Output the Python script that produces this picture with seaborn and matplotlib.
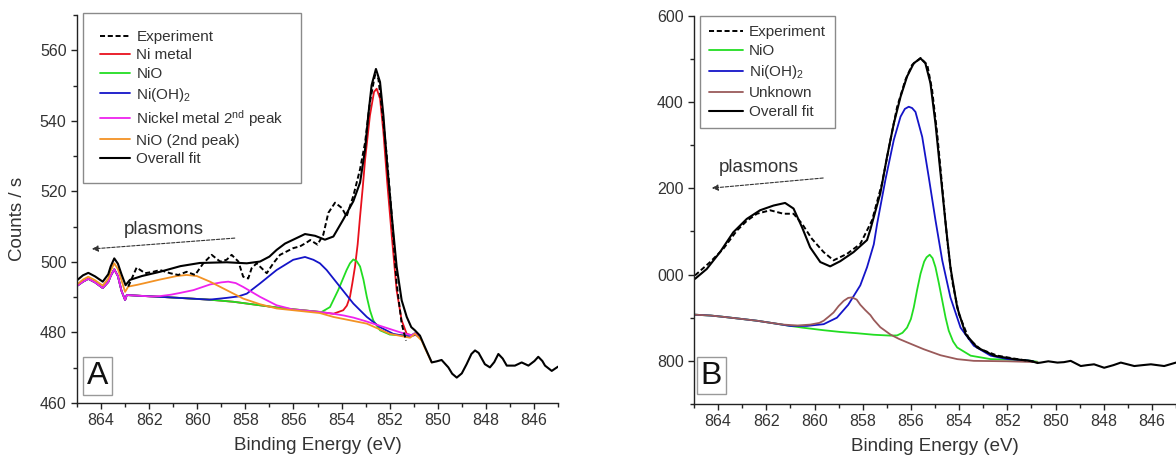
import numpy as np
import matplotlib
matplotlib.use("Agg")
import matplotlib.pyplot as plt
import seaborn as sns
from matplotlib.ticker import MultipleLocator

# ---------------- Panel A : Ni 2p3/2, metallic sample ----------------
a_fit_e = [865.0, 864.75, 864.53, 864.25, 863.93, 863.7, 863.6, 863.45, 863.3, 863.15, 862.98, 862.8,
           862.3, 861.55, 860.7, 859.89, 858.78, 857.94, 857.39, 857.0, 856.7, 856.35, 856.01, 855.52,
           855.1, 854.69, 854.34, 853.93, 853.51, 853.23, 853.02, 852.89, 852.75, 852.57, 852.4, 852.26,
           852.1, 851.91, 851.71, 851.5, 851.29, 851.1, 850.95, 850.74, 850.53, 850.25, 850.05, 849.84,
           849.56, 849.4, 849.21, 849.0, 848.8, 848.6, 848.45, 848.3, 848.04, 847.83, 847.65, 847.48,
           847.3, 847.13, 846.79, 846.51, 846.23, 845.98, 845.82, 845.65, 845.54, 845.26, 845.0]
a_fit_v = [494.8, 496.2, 496.9, 495.9, 494.4, 496.5, 498.7, 501.0, 499.5, 496.5, 493.4, 494.9,
           496.0, 497.2, 498.8, 499.7, 499.9, 499.6, 500.1, 501.5, 503.4, 505.2, 506.3, 507.9,
           507.4, 506.3, 507.2, 512.0, 517.2, 522.5, 532.0, 541.5, 550.1, 554.7, 551.0, 541.5,
           527.2, 512.9, 498.7, 489.1, 484.4, 481.5, 480.6, 479.1, 475.8, 471.5, 471.8, 472.2,
           470.1, 468.3, 467.2, 468.4, 471.0, 473.9, 474.9, 474.2, 471.0, 470.1, 471.6, 473.9,
           472.6, 470.6, 470.6, 471.5, 470.6, 471.9, 473.1, 471.9, 470.6, 469.1, 470.3]

a_exp_e = [862.87, 862.52, 862.17, 861.83, 861.55, 861.13, 860.79, 860.44, 860.09, 859.75, 859.4,
           859.05, 858.78, 858.57, 858.29, 858.09, 857.88, 857.74, 857.53, 857.32, 857.11, 856.84,
           856.56, 856.01, 855.73, 855.45, 855.3, 855.0, 854.76, 854.55, 854.27, 853.99, 853.79,
           853.51, 853.23, 853.02, 852.82, 852.61, 852.47, 852.29, 852.12, 851.91, 851.71, 851.5, 851.32]
a_exp_v = [493.0, 498.4, 496.8, 497.2, 497.7, 496.8, 496.3, 497.2, 496.3, 499.6, 502.0,
           500.1, 500.6, 502.0, 500.1, 495.8, 495.3, 498.2, 499.6, 498.2, 496.8, 499.6,
           502.0, 503.9, 504.4, 505.5, 506.2, 504.9, 507.7, 513.9, 516.8, 515.3, 512.9,
           518.7, 526.3, 533.9, 545.3, 553.0, 552.0, 541.5, 530.1, 512.9, 493.9, 482.5, 477.7]

a_ni_e = [865.0, 864.75, 864.53, 864.25, 863.93, 863.7, 863.6, 863.45, 863.3, 863.15, 863.0, 862.93,
          862.4, 861.55, 860.5, 859.5, 858.5, 857.39, 856.5, 855.6, 854.9, 854.34, 853.93, 853.78,
          853.65, 853.55, 853.44, 853.33, 853.23, 853.12, 853.02, 852.82, 852.65, 852.54, 852.4,
          852.26, 852.1, 851.91, 851.71, 851.5, 851.29, 851.02, 850.85]
a_ni_v = [493.2, 494.4, 495.2, 494.2, 492.6, 494.3, 496.0, 497.9, 496.0, 491.8, 489.2, 490.6,
          490.4, 490.1, 489.7, 489.3, 488.7, 487.7, 486.9, 486.3, 485.8, 485.3, 486.3, 487.6,
          490.1, 494.0, 498.7, 505.0, 512.9, 521.0, 529.1, 541.5, 548.2, 549.1, 546.3,
          536.8, 522.5, 507.2, 492.0, 483.4, 479.6, 479.1, 479.6]

a_nio_e = [865.0, 864.75, 864.53, 864.25, 863.93, 863.7, 863.6, 863.45, 863.3, 863.15, 863.0, 862.93,
           862.4, 861.55, 860.5, 859.5, 858.5, 857.39, 856.5, 855.6, 855.0, 854.83, 854.48, 854.14,
           853.79, 853.65, 853.51, 853.37, 853.23, 853.09, 852.95, 852.82, 852.68, 852.4, 851.99,
           851.5, 851.1, 850.95, 850.8]
a_nio_v = [493.2, 494.4, 495.2, 494.2, 492.6, 494.3, 496.0, 497.9, 496.0, 491.8, 489.2, 490.6,
           490.4, 490.1, 489.7, 489.3, 488.7, 487.7, 486.9, 486.3, 485.9, 485.8, 487.2, 492.0,
           497.7, 499.6, 500.7, 500.2, 498.7, 495.0, 490.1, 486.3, 483.4, 480.6, 479.4,
           479.2, 479.2, 479.8, 479.3]

a_oh_e = [865.0, 864.75, 864.53, 864.25, 863.93, 863.7, 863.6, 863.45, 863.3, 863.15, 863.0, 862.93,
          862.4, 861.55, 860.5, 859.5, 858.78, 858.3, 857.94, 857.39, 856.7, 856.01, 855.52, 855.17,
          854.9, 854.62, 854.06, 853.51, 852.95, 852.4, 851.85, 851.29, 850.95, 850.8]
a_oh_v = [493.2, 494.4, 495.2, 494.2, 492.6, 494.3, 496.0, 497.9, 496.0, 491.8, 489.2, 490.6,
          490.4, 490.1, 489.7, 489.3, 489.8, 490.2, 491.0, 493.9, 497.7, 500.6, 501.4, 500.6,
          499.6, 497.7, 492.9, 488.2, 484.4, 481.5, 479.6, 478.9, 479.3, 479.0]

a_ni2_e = [865.0, 864.75, 864.53, 864.25, 863.93, 863.7, 863.6, 863.45, 863.3, 863.15, 863.0, 862.93,
           862.4, 861.9, 861.55, 861.1, 860.72, 860.16, 859.47, 859.0, 858.71, 858.4, 858.09, 857.39,
           856.7, 856.01, 855.5, 854.9, 854.34, 853.9, 853.5, 853.0, 852.5, 852.0, 851.5, 851.1,
           850.95, 850.8]
a_ni2_v = [493.2, 494.4, 495.2, 494.2, 492.6, 494.3, 496.0, 497.9, 496.0, 491.8, 489.2, 490.6,
           490.4, 490.2, 490.3, 490.7, 491.2, 492.0, 493.6, 494.2, 494.4, 494.0, 492.9, 490.1,
           487.7, 486.5, 486.2, 485.8, 485.3, 484.8, 484.2, 483.2, 482.1, 481.0, 479.9, 479.2,
           479.8, 479.3]

a_nio2_e = [865.0, 864.75, 864.53, 864.25, 863.93, 863.7, 863.6, 863.45, 863.3, 863.15, 863.0, 862.87,
            862.5, 862.24, 861.55, 860.85, 860.44, 860.02, 859.47, 858.78, 858.09, 857.39, 856.7,
            856.01, 854.9, 854.34, 852.95, 851.99, 851.15, 850.95, 850.67, 850.53, 850.25]
a_nio2_v = [493.6, 495.0, 495.8, 494.8, 493.3, 495.3, 497.5, 499.6, 498.0, 494.8, 491.5, 493.0,
            493.5, 493.9, 495.0, 496.0, 496.3, 496.0, 494.4, 492.0, 489.6, 488.0, 486.8,
            486.3, 485.5, 484.4, 482.5, 479.6, 478.5, 479.6, 477.7, 475.5, 471.5]

# ---------------- Panel B : Ni 2p3/2, oxidised sample ----------------
b_base_e = [864.96, 864.3, 863.78, 863.0, 862.39, 861.8, 861.29]
b_base_v = [907, 905, 902, 897, 893, 888, 884]

b_fit_e = [864.96, 864.47, 863.92, 863.37, 862.81, 862.26, 861.7, 861.22, 860.87, 860.52, 860.18,
           859.76, 859.35, 858.93, 858.38, 857.82, 857.68, 857.27, 856.99, 856.71, 856.43, 856.16,
           855.88, 855.6, 855.4, 855.19, 854.98, 854.77, 854.56, 854.36, 854.08, 853.73, 853.25,
           852.55, 851.72, 851.03, 850.75, 850.61, 850.3, 849.92, 849.65, 849.37, 848.95, 848.7,
           848.4, 847.98, 847.6, 847.29, 846.73, 846.4, 846.04, 845.49, 845.0]
b_fit_v = [990, 1013, 1052, 1098, 1129, 1149, 1160, 1166, 1153, 1110, 1063,
           1029, 1019, 1031, 1052, 1080, 1105, 1188, 1273, 1350, 1412, 1459,
           1490, 1501, 1490, 1444, 1350, 1234, 1118, 1017, 924, 862, 831,
           812, 804, 800, 795, 796, 799, 796, 797, 800, 788, 790,
           792, 784, 790, 796, 788, 790, 792, 788, 796]

b_exp_e = [864.96, 864.33, 863.78, 863.22, 862.8, 862.39, 861.84, 861.29, 860.87, 860.52, 860.11,
           859.62, 859.21, 858.65, 858.1, 857.61, 857.2, 856.85, 856.57, 856.23, 855.95, 855.6,
           855.32, 855.12, 854.91, 854.7, 854.49, 854.29, 854.01, 853.59, 853.11, 852.41, 851.58, 850.89]
b_exp_v = [998, 1029, 1060, 1102, 1125, 1141, 1149, 1141, 1141, 1118, 1083,
           1052, 1033, 1048, 1071, 1126, 1211, 1312, 1389, 1451, 1486, 1502,
           1486, 1428, 1327, 1203, 1079, 986, 909, 850, 827, 812, 804, 798]

b_nio_e = [861.01, 860.5, 859.62, 858.93, 858.23, 857.54, 856.85, 856.57, 856.35, 856.16, 856.0,
           855.88, 855.74, 855.6, 855.45, 855.35, 855.22, 855.1, 854.98, 854.84, 854.7, 854.56,
           854.43, 854.25, 854.08, 853.52, 852.69, 851.31, 850.75]
b_nio_v = [881, 877, 871, 867, 864, 860.5, 858.5, 859, 865, 877, 897,
           924, 965, 1002, 1030, 1040, 1046, 1038, 1017, 980, 940, 900,
           870, 845, 831, 812, 804, 802, 798]

b_oh_e = [861.01, 860.31, 859.62, 859.07, 858.6, 858.1, 857.82, 857.54, 857.4, 857.06, 856.71,
          856.43, 856.25, 856.09, 855.95, 855.81, 855.53, 855.26, 854.98, 854.7, 854.36, 853.94,
          853.39, 852.69, 852.0, 851.17, 850.89]
b_oh_v = [881, 881, 885, 900, 930, 975, 1017, 1070, 1118, 1219, 1312,
          1366, 1384, 1389, 1386, 1377, 1319, 1226, 1126, 1033, 947, 877,
          835, 812, 804, 801, 798]

b_unk_e = [864.96, 864.3, 863.78, 863.0, 862.39, 861.8, 861.29, 860.7, 860.18, 859.8, 859.62,
           859.4, 859.21, 859.0, 858.79, 858.6, 858.44, 858.25, 858.1, 857.9, 857.68, 857.54,
           857.27, 856.85, 856.5, 856.16, 855.47, 854.77, 854.08, 853.39, 852.0, 850.75]
b_unk_v = [907, 905, 902, 897, 893, 888, 884, 882, 884, 888, 893,
           903, 912, 927, 939, 946, 947, 942, 930, 918, 906, 895,
           878, 861, 851, 843, 827, 813, 804, 800, 799, 797]

b_ytick_vals = [800, 1000, 1200, 1400, 1600]
b_ytick_text = ["800", "000", "200", "400", "600"]
x_ticks = [864, 862, 860, 858, 856, 854, 852, 850, 848, 846]

# ---------------- styling ----------------
sns.set_style("white")
plt.rcParams["font.family"] = ["Liberation Sans", "DejaVu Sans"]
plt.rcParams["mathtext.fontset"] = "custom"
plt.rcParams["mathtext.rm"] = "Liberation Sans"
plt.rcParams["mathtext.it"] = "Liberation Sans:italic"

C_RED, C_GREEN, C_BLUE = "#e8101c", "#22dd22", "#1414c8"
C_MAG, C_ORANGE, C_BROWN = "#ee22ee", "#f39224", "#9a5a5a"
LW = 1.3
DASH = (0, (2.6, 1.4))

fig = plt.figure(figsize=(11.76, 4.62), dpi=100)
axA = fig.add_axes([77 / 1176, 1 - 403 / 462, 481 / 1176, 388 / 462])
axB = fig.add_axes([694 / 1176, 1 - 404 / 462, 482 / 1176, 388.3 / 462])


def curve(ax, e, v, color, label, lw=LW, ls="-"):
    sns.lineplot(x=e, y=v, ax=ax, color=color, lw=lw, linestyle=ls, sort=False,
                 estimator=None, label=label, legend=False)
    return ax.get_lines()[-1]


# Panel A
hA = {}
hA["Ni metal"] = curve(axA, a_ni_e, a_ni_v, C_RED, "Ni metal")
hA["NiO"] = curve(axA, a_nio_e, a_nio_v, C_GREEN, "NiO")
hA["Ni(OH)$_2$"] = curve(axA, a_oh_e, a_oh_v, C_BLUE, "Ni(OH)$_2$")
hA["Nickel metal 2$^{\\mathrm{nd}}$ peak"] = curve(axA, a_ni2_e, a_ni2_v, C_MAG, "Nickel metal 2nd")
hA["NiO (2nd peak)"] = curve(axA, a_nio2_e, a_nio2_v, C_ORANGE, "NiO (2nd peak)")
hA["Experiment"] = curve(axA, a_exp_e, a_exp_v, "black", "Experiment", lw=1.4, ls=DASH)
hA["Overall fit"] = curve(axA, a_fit_e, a_fit_v, "black", "Overall fit", lw=1.5)

orderA = ["Experiment", "Ni metal", "NiO", "Ni(OH)$_2$", "Nickel metal 2$^{\\mathrm{nd}}$ peak",
          "NiO (2nd peak)", "Overall fit"]

# Panel B
hB = {}
hB["NiO"] = curve(axB, b_base_e[:-1] + b_nio_e, b_base_v[:-1] + b_nio_v, C_GREEN, "NiO")
hB["Ni(OH)$_2$"] = curve(axB, b_base_e[:-1] + b_oh_e, b_base_v[:-1] + b_oh_v, C_BLUE, "Ni(OH)$_2$")
hB["Unknown"] = curve(axB, b_unk_e, b_unk_v, C_BROWN, "Unknown")
hB["Experiment"] = curve(axB, b_exp_e, b_exp_v, "black", "Experiment", lw=1.4, ls=DASH)
hB["Overall fit"] = curve(axB, b_fit_e, b_fit_v, "black", "Overall fit", lw=1.5)
orderB = ["Experiment", "NiO", "Ni(OH)$_2$", "Unknown", "Overall fit"]

for ax in (axA, axB):
    ax.set_xlim(865, 845)
    ax.set_xticks(x_ticks)
    ax.xaxis.set_minor_locator(MultipleLocator(1))
    for s in ("top", "right"):
        ax.spines[s].set_visible(False)
    for s in ("left", "bottom"):
        ax.spines[s].set_linewidth(1.0)
        ax.spines[s].set_color("#222222")
    ax.tick_params(which="major", direction="out", length=4.5, width=1.0, color="#222222",
                   labelsize=11.5, labelcolor="#333333", pad=3)
    ax.tick_params(which="minor", direction="out", length=2.6, width=1.0, color="#222222")
    ax.tick_params(bottom=True, left=True, which="both")
    ax.set_xlabel("Binding Energy (eV)", fontsize=13.5, color="#333333", labelpad=6)
    ax.set_ylabel("")
    ax.grid(False)

axA.set_ylim(460, 570)
axA.set_yticks([460, 480, 500, 520, 540, 560])
axA.yaxis.set_minor_locator(MultipleLocator(10))

axB.set_ylim(700, 1600)
axB.set_yticks(b_ytick_vals)
axB.set_yticklabels(b_ytick_text)
axB.yaxis.set_minor_locator(MultipleLocator(100))

legA = axA.legend([hA[k] for k in orderA], orderA, loc="upper left",
                  bbox_to_anchor=(0.0125, 1.005), borderaxespad=0, fontsize=11,
                  frameon=True, fancybox=False, edgecolor="#8a8a8a", framealpha=1,
                  handlelength=2.0, handletextpad=0.4, labelspacing=0.3, borderpad=1.1)
legA.get_frame().set_linewidth(1.0)
legB = axB.legend([hB[k] for k in orderB], orderB, loc="upper left",
                  bbox_to_anchor=(0.012, 1.0), borderaxespad=0, fontsize=11,
                  frameon=True, fancybox=False, edgecolor="#8a8a8a", framealpha=1,
                  handlelength=2.2, handletextpad=0.4, labelspacing=0.33, borderpad=0.6)
legB.get_frame().set_linewidth(1.0)
for leg in (legA, legB):
    for t in leg.get_texts():
        t.set_color("#333333")

# plasmon annotations
arrow_kw = dict(arrowstyle="-|>", color="#333333", lw=0.8, linestyle=(0, (3, 1.5)),
                mutation_scale=9, shrinkA=0, shrinkB=0)
axA.annotate("", xy=(0.031, 0.397), xytext=(0.328, 0.425), xycoords="axes fraction",
             arrowprops=arrow_kw)
axA.text(0.181, 0.446, "plasmons", transform=axA.transAxes, fontsize=13.5,
         color="#333333", ha="center", va="center")
axB.annotate("", xy=(0.037, 0.556), xytext=(0.268, 0.582), xycoords="axes fraction",
             arrowprops=arrow_kw)
axB.text(0.134, 0.610, "plasmons", transform=axB.transAxes, fontsize=13.5,
         color="#333333", ha="center", va="center")

# panel letters
box_kw = dict(boxstyle="square,pad=0.12", facecolor="white", edgecolor="#999999", lw=1.0)
axA.text(0.042, 0.07, "A", transform=axA.transAxes, fontsize=23, ha="center", va="center",
         color="#111111", bbox=box_kw)
axB.text(0.036, 0.073, "B", transform=axB.transAxes, fontsize=23, ha="center", va="center",
         color="#111111", bbox=box_kw)

fig.text(18 / 1176, 1 - 219 / 462, "Counts / s", rotation=90, fontsize=13.5,
         color="#333333", ha="center", va="center")

fig.savefig("out.png", dpi=100, facecolor="white")
